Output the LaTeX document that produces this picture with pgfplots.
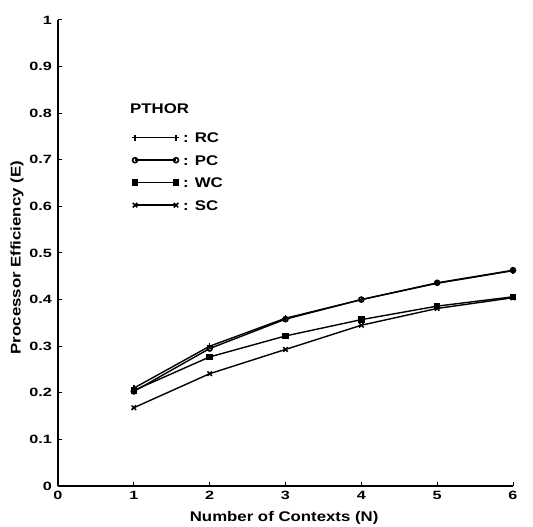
\documentclass[border=0pt]{standalone}
\usepackage{fontspec}
\setmainfont{Liberation Sans}
\newfontfamily\labfont{Liberation Sans}[FakeStretch=1.2]
\newfontfamily\tickfont{Liberation Sans}[FakeStretch=1.35]
\usepackage{pgfplots}
\pgfplotsset{compat=1.18}
\begin{document}
\begin{tikzpicture}
\begin{axis}[
  at={(0,0)}, anchor=south west,
  scale only axis, width=455bp, height=466bp,
  xmin=0, xmax=6, ymin=0, ymax=1,
  axis x line=bottom, axis y line=left,
  axis line style={-, line width=1.4bp},
  xtick={0,1,2,3,4,5,6},
  ytick={0,0.1,0.2,0.3,0.4,0.5,0.6,0.7,0.8,0.9,1},
  tick align=inside, major tick length=4bp,
  tick style={line width=1bp, black},
  /pgf/number format/assume math mode=true,
  ticklabel style={font=\tickfont\bfseries\fontsize{12bp}{14bp}\selectfont},
  yticklabel style={anchor=east, inner sep=0pt, xshift=-6bp},
  xticklabel style={anchor=north, inner sep=0pt, yshift=-5bp},
  xlabel={Number of Contexts (N)},
  ylabel={Processor Efficiency (E)},
  label style={font=\labfont\bfseries\fontsize{14bp}{16bp}\selectfont},
  xlabel style={at={(axis description cs:0.497,0)}, anchor=center, yshift=-32bp},
  ylabel style={at={(axis description cs:-0.09,0.49)}, anchor=center},
  legend image code/.code={\draw[#1] plot coordinates {(0bp,0bp) (41bp,0bp)};},
  legend style={at={(axis cs:0.976,0.675)}, anchor=west, draw=none, fill=none,
    inner sep=0pt, outer sep=0pt, row sep=10.5bp, column sep=3bp,
    font=\labfont\bfseries\fontsize{14bp}{16bp}\selectfont,
    nodes={inner sep=1bp, text height=10bp, text depth=0bp}},
  legend cell align=left,
]
\addplot[black, line width=1.4bp, mark=+, mark size=3bp, mark options={solid, line width=1.4bp}] coordinates {(1,0.21)(2,0.30)(3,0.36)(4,0.40)(5,0.435)(6,0.462)};
\addlegendentry{: RC}
\addplot[black, line width=1.4bp, mark=o, mark size=2.5bp, mark options={solid, line width=1.6bp, fill=white}] coordinates {(1,0.203)(2,0.295)(3,0.358)(4,0.40)(5,0.436)(6,0.463)};
\addlegendentry{: PC}
\addplot[black, line width=1.4bp, mark=square*, mark size=2.6bp, mark options={solid}] coordinates {(1,0.205)(2,0.277)(3,0.322)(4,0.357)(5,0.386)(6,0.406)};
\addlegendentry{: WC}
\addplot[black, line width=1.4bp, mark=x, mark size=3.2bp, mark options={solid, line width=1.5bp}] coordinates {(1,0.168)(2,0.241)(3,0.293)(4,0.345)(5,0.381)(6,0.404)};
\addlegendentry{: SC}
\node[anchor=west, inner sep=0pt, font=\labfont\bfseries\fontsize{14bp}{16bp}\selectfont] at (axis cs:0.95,0.81) {PTHOR};
\end{axis}
\pgfresetboundingbox
\path (-58bp,-41bp) rectangle (475bp,486bp);
\end{tikzpicture}
\end{document}
